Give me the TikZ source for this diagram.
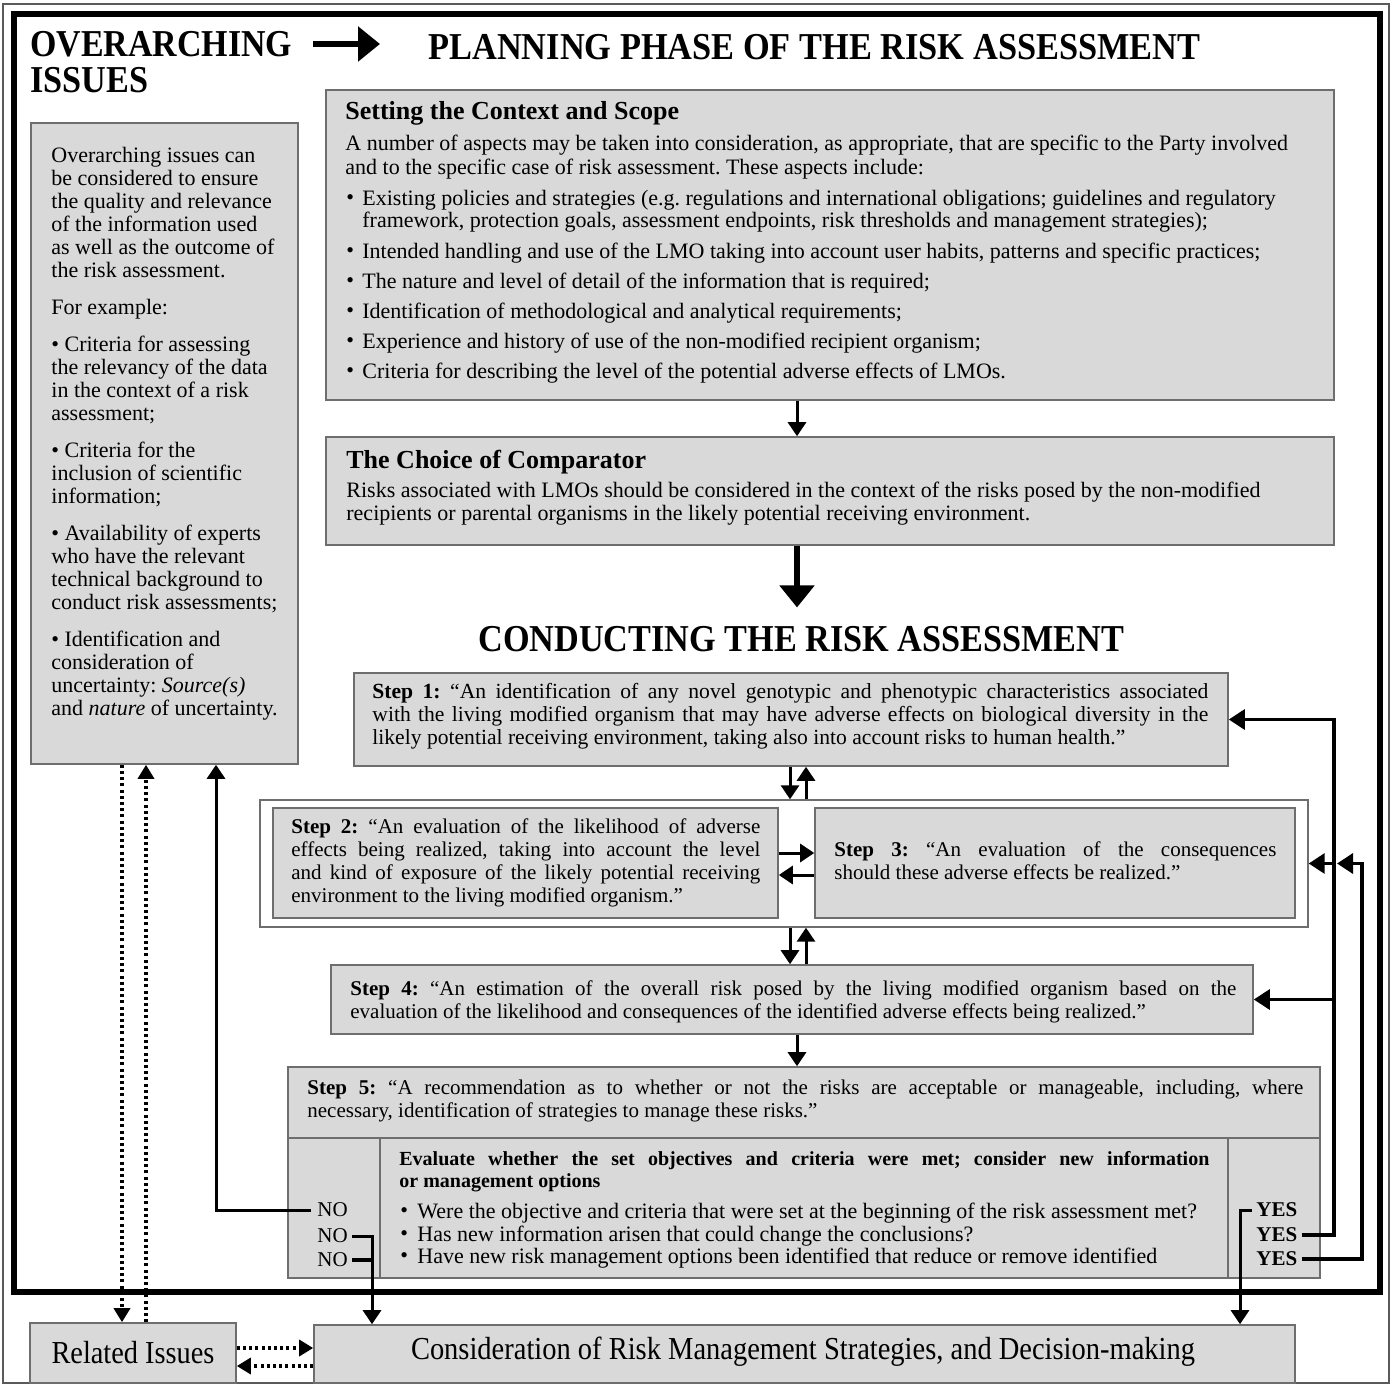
\documentclass[tikz,border=0pt]{standalone}
\usepackage{fontspec}
\setmainfont{Liberation Serif}
\usepackage{graphicx}
\usetikzlibrary{arrows.meta,fit,calc}
\definecolor{boxfill}{RGB}{217,217,217}
\definecolor{boxline}{RGB}{110,110,110}
\definecolor{frameline}{RGB}{90,90,90}
\frenchspacing
\begin{document}
\begin{tikzpicture}[x=0.5pt,y=-0.5pt,
  box/.style={draw=boxline, line width=0.8pt, fill=boxfill, inner sep=0pt},
  wbox/.style={draw=boxline, line width=0.7pt, fill=white, inner sep=0pt},
  txt/.style={inner sep=0pt, font=\fontsize{10.5}{12}\selectfont, align=left},
  settxt/.style={inner sep=0pt, font=\fontsize{11}{12}\selectfont, align=left},
  steptxt/.style={inner sep=0pt, font=\fontsize{10.5}{11.5}\selectfont, align=justify, anchor=north west},
  arr/.style={line width=1.5pt, -{Triangle[length=7pt,width=9pt]}},
  sidearr/.style={line width=1.6pt, -{Triangle[length=8pt,width=10pt]}},
  ln/.style={line width=1.6pt},
  bigarr/.style={line width=2.6pt, -{Triangle[length=11pt,width=17pt]}},
  dotarr/.style={line width=1.7pt, dash pattern=on 1.5pt off 1.6pt, -{Triangle[length=7pt,width=8pt]}},
]
\useasboundingbox (0,0) rectangle (1396,1385);
% frames
\draw[frameline, line width=0.9pt] (3,4) rectangle (1389,1383);
\draw[black, line width=3pt] (14,14) rectangle (1380,1292);

% titles
\node[anchor=base west, inner sep=0pt] (ovtitle1) at (30,57) {\resizebox{131pt}{\height}{\fontsize{19}{19}\selectfont\bfseries OVERARCHING}};
\node[anchor=base west, inner sep=0pt] (ovtitle2) at (30,93) {\resizebox{59pt}{\height}{\fontsize{19}{19}\selectfont\bfseries ISSUES}};
\node[anchor=base west, inner sep=0pt] (plan) at (428,60) {\resizebox{386pt}{\height}{\fontsize{19}{19}\selectfont\bfseries PLANNING PHASE OF THE RISK ASSESSMENT}};
\node[anchor=base west, inner sep=0pt] (conduct) at (478,651) {\resizebox{323pt}{\height}{\fontsize{19}{19}\selectfont\bfseries CONDUCTING THE RISK ASSESSMENT}};
\draw[line width=3pt, -{Triangle[length=11pt,width=17pt]}] (ovtitle1.east |- 0,44) ++(20,0) coordinate (ovarrS) -- (380,44) coordinate (ovarrE);

% boxes
\node[box, fit={(31,123) (298,764)}] (ovbox) {};
\node[box, fit={(326,90) (1334,400)}] (setting) {};
\node[box, fit={(326,437) (1334,545)}] (comp) {};
\node[box, fit={(354,673) (1228,766)}] (step1) {};
\node[wbox, fit={(260,800) (1308,927)}] (grp) {};
\node[box, fit={(273,808) (778,918)}] (step2) {};
\node[box, fit={(815,808) (1295,918)}] (step3) {};
\node[box, fit={(331,965) (1253,1034)}] (step4) {};
\node[box, fit={(288,1067) (1320,1278)}] (step5) {};
\draw[boxline, line width=0.8pt] (step5.west |- 0,1138) -- (step5.east |- 0,1138);
\draw[boxline, line width=0.8pt] (380,1138) -- (380,0 |- step5.south);
\draw[boxline, line width=0.8pt] (1228,1138) -- (1228,0 |- step5.south);
\node[box, fit={(30,1323) (236,1383)}] (relbox) {};
\node[box, fit={(314,1325) (1295,1383)}] (cons) {};

% left box text
\node[txt, anchor=north west, font=\fontsize{11}{11.5}\selectfont] (ovtext) at (51,147) {Overarching issues can\\ be considered to ensure\\ the quality and relevance\\ of the information used\\ as well as the outcome of\\ the risk assessment.\\[7pt]
For example:\\[7pt]
• Criteria for assessing\\ the relevancy of the data\\ in the context of a risk\\ assessment;\\[7pt]
• Criteria for the\\ inclusion of scientific\\ information;\\[7pt]
• Availability of experts\\ who have the relevant\\ technical background to\\ conduct risk assessments;\\[7pt]
• Identification and\\ consideration of\\ uncertainty: \textit{Source(s)}\\ and \textit{nature} of uncertainty.};

% setting box text
\node[anchor=base west, inner sep=0pt, font=\fontsize{13}{13}\selectfont\bfseries] (settitle) at (345,120) {Setting the Context and Scope};
\node[settxt, anchor=north west] (s0) at (345,135) {A number of aspects may be taken into consideration, as appropriate, that are specific to the Party involved\\ and to the specific case of risk assessment. These aspects include:};
\node[settxt, anchor=west] (bu1) at (346,200) {•};
\node[settxt, anchor=north west, font=\fontsize{11}{11}\selectfont] (s1) at (362,190) {Existing policies and strategies (e.g. regulations and international obligations; guidelines and regulatory\\ framework, protection goals, assessment endpoints, risk thresholds and management strategies);};
\node[settxt, anchor=west] (bu2) at (346,253) {•};
\node[settxt, anchor=west] (s2) at (362,253) {Intended handling and use of the LMO taking into account user habits, patterns and specific practices;};
\node[settxt, anchor=west] (bu3) at (346,283) {•};
\node[settxt, anchor=west] (s3) at (362,283) {The nature and level of detail of the information that is required;};
\node[settxt, anchor=west] (bu4) at (346,313) {•};
\node[settxt, anchor=west] (s4) at (362,313) {Identification of methodological and analytical requirements;};
\node[settxt, anchor=west] (bu5) at (346,343) {•};
\node[settxt, anchor=west] (s5) at (362,343) {Experience and history of use of the non-modified recipient organism;};
\node[settxt, anchor=west] (bu6) at (346,373) {•};
\node[settxt, anchor=west] (s6) at (362,373) {Criteria for describing the level of the potential adverse effects of LMOs.};

% comparator text
\node[anchor=base west, inner sep=0pt, font=\fontsize{13}{13}\selectfont\bfseries] (comptitle) at (346,468) {The Choice of Comparator};
\node[settxt, anchor=north west, font=\fontsize{11}{11.5}\selectfont] (comptext) at (346,482) {Risks associated with LMOs should be considered in the context of the risks posed by the non-modified\\ recipients or parental organisms in the likely potential receiving environment.};

% step texts
\node[steptxt, text width=418pt, font=\fontsize{10.8}{11.5}\selectfont] (st1) at (372,683) {\textbf{Step 1:} “An identification of any novel genotypic and phenotypic characteristics associated\linebreak with the living modified organism that may have adverse effects on biological diversity in the\linebreak likely potential receiving environment, taking also into account risks to human health.”};
\node[steptxt, text width=234.5pt] (st2) at (291,818) {\textbf{Step 2:} “An evaluation of the likelihood of adverse\linebreak effects being realized, taking into account the level\linebreak and kind of exposure of the likely potential receiving\linebreak environment to the living modified organism.”};
\node[steptxt, text width=221pt] (st3) at (834,841) {\textbf{Step 3:} “An evaluation of the consequences\linebreak should these adverse effects be realized.”};
\node[steptxt, text width=443pt] (st4) at (350,980) {\textbf{Step 4:} “An estimation of the overall risk posed by the living modified organism based on the\linebreak evaluation of the likelihood and consequences of the identified adverse effects being realized.”};
\node[steptxt, text width=498pt] (st5) at (307,1080) {\textbf{Step 5:} “A recommendation as to whether or not the risks are acceptable or manageable, including, where\linebreak necessary, identification of strategies to manage these risks.”};
\node[steptxt, text width=405pt, font=\fontsize{10}{11}\selectfont\bfseries] (evtxt) at (399,1151) {Evaluate whether the set objectives and criteria were met; consider new information\linebreak or management options};
\node[settxt, anchor=west] (eb1) at (400,1213) {•};
\node[settxt, anchor=west] (e1) at (417,1213) {Were the objective and criteria that were set at the beginning of the risk assessment met?};
\node[settxt, anchor=west] (eb2) at (400,1236) {•};
\node[settxt, anchor=west] (e2) at (417,1236) {Has new information arisen that could change the conclusions?};
\node[settxt, anchor=west] (eb3) at (400,1258) {•};
\node[settxt, anchor=west] (e3) at (417,1258) {Have new risk management options been identified that reduce or remove identified};

\node[txt, anchor=west] (no1) at (317,1210) {NO};
\node[txt, anchor=west] (no2) at (317,1236) {NO};
\node[txt, anchor=west] (no3) at (317,1260) {NO};
\node[txt, anchor=west, font=\fontsize{10.5}{12}\selectfont\bfseries] (yes1) at (1256,1210) {YES};
\node[txt, anchor=west, font=\fontsize{10.5}{12}\selectfont\bfseries] (yes2) at (1256,1235) {YES};
\node[txt, anchor=west, font=\fontsize{10.5}{12}\selectfont\bfseries] (yes3) at (1256,1259) {YES};

% bottom boxes text
\node[inner sep=0pt] (reltext) at (relbox.center) {\resizebox{81.5pt}{\height}{\fontsize{16}{16}\selectfont Related Issues}};
\node[inner sep=0pt] (constext) at (803,1352) {\resizebox{392pt}{\height}{\fontsize{16}{16}\selectfont Consideration of Risk Management Strategies, and Decision-making}};

% flow connectors
\draw[arr] (797,0 |- setting.south) -- (797,0 |- comp.north);
\draw[bigarr, shorten >=9pt] (797,0 |- comp.south) -- (797,0 |- conduct.north);
\draw[arr] (790,0 |- step1.south) -- (790,0 |- grp.north);
\draw[arr] (806,0 |- grp.north) -- (806,0 |- step1.south);
\draw[arr] (790,0 |- grp.south) -- (790,0 |- step4.north);
\draw[arr] (806,0 |- step4.north) -- (806,0 |- grp.south);
\draw[arr] (step2.east |- 0,853) -- (step3.west |- 0,853);
\draw[arr] (step3.west |- 0,875) -- (step2.east |- 0,875);
\draw[arr] (797,0 |- step4.south) -- (797,0 |- step5.north);

% NO connectors
\draw[arr] ([xshift=-3pt]no1.west) -| (216,0 |- ovbox.south);
\draw[arr] ([xshift=2pt]no2.east) -| (372,0 |- cons.north);
\draw[ln] ([xshift=2pt]no3.east) -- (372,0 |- no3.east);
% YES connectors
\draw[arr] ([xshift=-2pt]yes1.west) -| (1240,0 |- cons.north);
\draw[sidearr] ([xshift=2pt]yes2.east) -| (1334,0 |- step1.east) -- (step1.east);
\draw[sidearr] (1334,0 |- grp.east) -- (grp.east);
\draw[sidearr] (1334,0 |- step4.east) -- (step4.east);
\coordinate (y3tip) at (1337,0 |- grp.east);
\draw[sidearr] ([xshift=2pt]yes3.east) -| (1362,0 |- grp.east) -- (y3tip);

% dotted connectors
\draw[dotarr] (122,0 |- ovbox.south) -- (122,0 |- relbox.north);
\draw[dotarr] (146,0 |- relbox.north) -- (146,0 |- ovbox.south);
\draw[dotarr] (relbox.east |- 0,1348) -- (cons.west |- 0,1348);
\draw[dotarr] (cons.west |- 0,1366) -- (relbox.east |- 0,1366);
\end{tikzpicture}
\end{document}
